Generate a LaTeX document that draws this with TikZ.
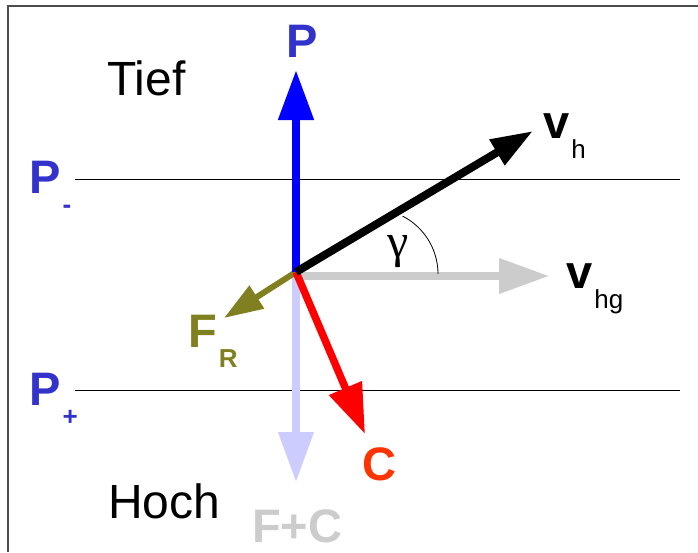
\documentclass[tikz,border=0pt]{standalone}
\usepackage{fontspec}
\setmainfont{Liberation Sans}
\newfontfamily\gammafont{Liberation Serif}
\usepackage{tikz}
\usetikzlibrary{arrows.meta}

\definecolor{plblue}{HTML}{3333CC}
\definecolor{parrow}{HTML}{0000FF}
\definecolor{frolive}{HTML}{808020}
\definecolor{cred}{HTML}{FF0000}
\definecolor{clabel}{HTML}{FF3300}
\definecolor{fcarrow}{HTML}{CCCCFF}
\definecolor{lightgr}{HTML}{CCCCCC}

% label with a lowered subscript
\newcommand{\sublbl}[2]{#1\hspace{2pt}\raisebox{-20pt}{\fontsize{26}{26}\selectfont #2}}

\begin{document}
\begin{tikzpicture}[x=1pt, y=-1pt,
  % ---- Text styles ----
  lbl/.style ={inner sep=0pt, anchor=base west,
    font=\fontsize{47}{47}\selectfont\bfseries},
  word/.style={inner sep=0pt, anchor=base west,
    font=\fontsize{48}{48}\selectfont},
  % ---- Arrow styles ----
  bigarr/.style  ={-{Triangle[length=50pt, width=34pt]}, line width=7.5pt},
  midarr/.style  ={-{Triangle[length=42pt, width=28pt]}, line width=8pt},
  smallarr/.style={-{Triangle[length=39pt, width=26pt]}, line width=6pt},
  level/.style   ={line width=0.8pt, black},
  frame/.style   ={line width=1.2pt, black!70},
]
\useasboundingbox (0,0) rectangle (698,552);

% ---- Frame (top and left edge) ----
\draw[frame] (8,552) -- (8,6) -- (698,6);

% ---- Pressure levels ----
\draw[level] (75,179) -- (680,179);
\draw[level] (75,390) -- (680,390);

% ---- Points ----
\coordinate (O)     at (296,272);
\coordinate (vhg0)  at (296,276);
\coordinate (ptip)  at (296,70);
\coordinate (fctip) at (296,482);
\coordinate (vgtip) at (549,276);
\coordinate (frtip) at (224,318);
\coordinate (ctip)  at (365,434);
\coordinate (vhtip) at (533,131);
\coordinate (arc0)  at (438,274);

% ---- Vectors ----
\draw[bigarr, fcarrow] (O) -- (fctip);
\draw[bigarr, lightgr] (vhg0) -- (vgtip);
\draw[smallarr, frolive] (O) -- (frtip);
\draw[bigarr, cred] (O) -- (ctip);
\draw[bigarr, parrow, line width=8pt] (O) -- (ptip);
\draw[midarr, black] (O) -- (vhtip);

% ---- Angle ----
\draw[line width=0.8pt] (arc0) arc[start angle=0, end angle=-63, radius=65];
\node[inner sep=0pt, font=\gammafont\fontsize{48}{48}\selectfont] (gam) at (398,252) {γ};

% ---- Labels ----
\node[lbl, plblue] (ptop) at (286,57) {P};
\node[word] (tief) at (107,95)  {Tief};
\node[word] (hoch) at (108,518) {Hoch};
\node[lbl, plblue] (pminus) at (29,193) {\sublbl{P}{-}};
\node[lbl, plblue] (pplus)  at (29,405) {\sublbl{P}{+}};
\node[lbl, frolive] (frlbl) at (188,347) {\sublbl{F}{R}};
\node[lbl, clabel] (clbl) at (362,480) {C};
\node[lbl, lightgr] (fclbl) at (252,542) {F+C};
\node[lbl] (vhlbl)  at (543,138) {\sublbl{v}{\mdseries h}};
\node[lbl] (vhglbl) at (566,288) {\sublbl{v}{\mdseries hg}};
\end{tikzpicture}
\end{document}
